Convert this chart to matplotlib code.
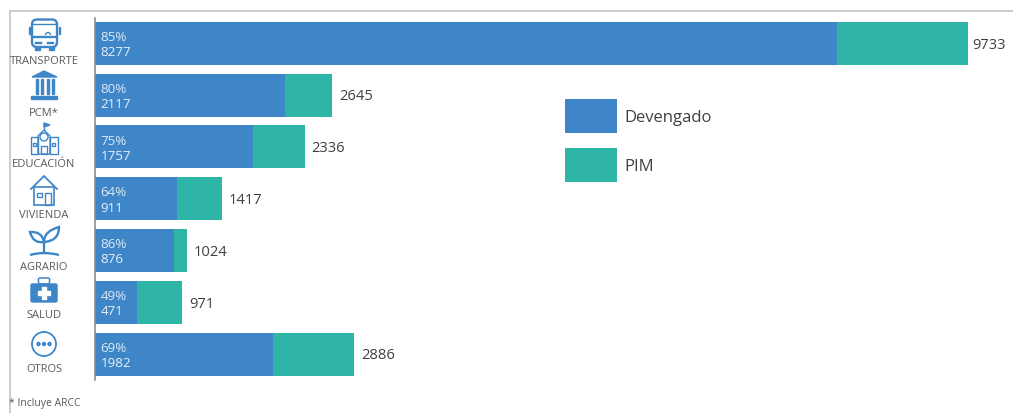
import matplotlib
matplotlib.use("Agg")
import matplotlib.pyplot as plt
from matplotlib.patches import Rectangle, Circle, Polygon, FancyBboxPatch, Arc, PathPatch
from matplotlib.path import Path

plt.rcParams['font.family'] = ['Open Sans', 'DejaVu Sans']

categories = ["TRANSPORTE", "PCM*", "EDUCACIÓN", "VIVIENDA", "AGRARIO", "SALUD", "OTROS"]
devengado = [8277, 2117, 1757, 911, 876, 471, 1982]
pim = [9733, 2645, 2336, 1417, 1024, 971, 2886]
percent = [85, 80, 75, 64, 86, 49, 69]
footnote = "* Incluye ARCC"

BLUE = "#3E86C8"
TEAL = "#2FB5A7"
W, H = 1013, 414
ICON = "#3E86C8"
LABEL = "#5A5A5A"

fig = plt.figure(figsize=(W / 100, H / 100), dpi=100, facecolor="white")

# main axes
left, right, top, bottom = 95, 968, 19, 380.5
ax = fig.add_axes([left / W, 1 - bottom / H, (right - left) / W, (bottom - top) / H])
ax.patch.set_alpha(0)
y = list(range(len(categories)))
rem = [p - d for p, d in zip(pim, devengado)]
h1 = ax.barh(y, devengado, height=0.83, color=BLUE, label="Devengado")
h2 = ax.barh(y, rem, left=devengado, height=0.83, color=TEAL, label="PIM")
ax.set_xlim(0, max(pim))
ax.set_ylim(6.49, -0.49)
for s in ("top", "right", "bottom"):
    ax.spines[s].set_visible(False)
ax.spines["left"].set_color("#8C8C8C")
ax.spines["left"].set_linewidth(1.2)
ax.set_xticks([])
ax.set_yticks([])
for i in y:
    ax.annotate(f"{percent[i]}%", (0, i), xytext=(4, 5), textcoords="offset points",
                color="#DCE9F5", fontsize=9.6, va="center", ha="left")
    ax.annotate(f"{devengado[i]}", (0, i), xytext=(4, -6), textcoords="offset points",
                color="#E8F0F8", fontsize=9.6, va="center", ha="left")
    ax.annotate(f"{pim[i]}", (pim[i], i), xytext=(2.9 if i == 0 else 5, -0.5),
                textcoords="offset points",
                color="#404040", fontsize=10.6, va="center", ha="left")

ax.legend(handles=[h1, h2], frameon=False, fontsize=12, loc="upper left",
          bbox_to_anchor=(565 / W, 1 - 100 / H), bbox_transform=fig.transFigure,
          borderpad=0, borderaxespad=0, handlelength=3.12, handleheight=2.75,
          labelspacing=0.92, handletextpad=0.42, labelcolor="#404040")

# overlay in pixel coordinates for the frame and icons
ov = fig.add_axes([0, 0, 1, 1], zorder=5)
ov.set_xlim(0, W)
ov.set_ylim(H, 0)
ov.axis("off")
ov.patch.set_alpha(0)

ov.plot([9.5, W], [11.5, 11.5], color="#C8C8C8", lw=1.3)
ov.plot([9.5, 9.5], [11.5, H], color="#C8C8C8", lw=1.3)

label_y = [61, 113.5, 164.5, 215.5, 268, 316, 370]
for c, ly in zip(categories, label_y):
    ov.text(44, ly, c, fontsize=8, color=LABEL, ha="center", va="center")
ov.text(9, 404, footnote, fontsize=7.5, color=LABEL, ha="left", va="center")

lw = 1.7
tl = 1.0
# bus
ov.add_patch(FancyBboxPatch((32, 20.5), 25, 27.5, boxstyle="round,pad=0,rounding_size=5", fc="none", ec=ICON, lw=lw))
ov.plot([32, 57], [25, 25], color=ICON, lw=tl)
ov.plot([32, 57], [37.5, 37.5], color=ICON, lw=lw)
ov.add_patch(Arc((48, 36), 5, 5, theta1=180, theta2=360, ec=ICON, lw=tl))
ov.add_patch(Rectangle((35, 48), 5, 3, fc=ICON, ec=ICON))
ov.add_patch(Rectangle((49, 48), 5, 3, fc=ICON, ec=ICON))
ov.add_patch(Rectangle((28.7, 28), 1.3, 7, fc=ICON, ec=ICON))
ov.add_patch(Rectangle((59, 28), 1.3, 7, fc=ICON, ec=ICON))
ov.plot([36, 41], [43.5, 43.5], color=ICON, lw=lw)
ov.plot([48, 53], [43.5, 43.5], color=ICON, lw=lw)
# PCM (columns)
ov.add_patch(Polygon([[32, 78], [44, 72], [57, 78]], fc=ICON, ec=ICON))
for cx in (36, 41, 46.5, 51.5):
    ov.add_patch(Rectangle((cx, 80), 2.2, 15, fc=ICON, ec=ICON))
ov.add_patch(Rectangle((31, 97), 26, 2.5, fc=ICON, ec=ICON))
# school
ov.plot([44, 44], [131, 124], color=ICON, lw=tl)
ov.add_patch(Polygon([[44, 124], [50, 126], [44, 128]], fc=ICON, ec=ICON))
ov.add_patch(Polygon([[38, 137], [44, 131], [50, 137], [50, 155], [38, 155]], fc="none", ec=ICON, lw=tl))
ov.add_patch(Rectangle((31, 138), 7, 17, fc="none", ec=ICON, lw=tl))
ov.add_patch(Rectangle((50, 138), 8, 17, fc="none", ec=ICON, lw=tl))
ov.add_patch(Circle((44, 138), 4, fc="none", ec=ICON, lw=tl))
ov.add_patch(Rectangle((41, 147), 6, 8, fc="none", ec=ICON, lw=tl))
ov.add_patch(Rectangle((33, 144), 3, 3, fc="none", ec=ICON, lw=tl))
ov.add_patch(Rectangle((52, 144), 3, 3, fc="none", ec=ICON, lw=tl))
# house
ov.plot([31, 44, 57], [190, 177, 190], color=ICON, lw=lw - 0.4)
ov.add_patch(Rectangle((34, 188), 20, 18, fc="none", ec=ICON, lw=tl + 0.2))
ov.add_patch(Rectangle((45, 194), 6, 12, fc="none", ec=ICON, lw=tl))
ov.add_patch(Rectangle((37, 194), 5, 4, fc="none", ec=ICON, lw=tl))
# plant
C3 = Path.CURVE3
left_leaf = Path([(44, 254), (44, 248), (44, 243), (33, 245), (30, 233), (42, 232), (44, 243)],
                 [Path.MOVETO, C3, C3, C3, C3, C3, C3])
right_leaf = Path([(44, 243), (44, 232), (59, 228), (59, 242), (44, 243)],
                  [Path.MOVETO, C3, C3, C3, C3])
base = Path([(30, 256), (44, 252), (59, 256)], [Path.MOVETO, C3, C3])
for p in (left_leaf, right_leaf, base):
    ov.add_patch(PathPatch(p, fc="none", ec=ICON, lw=lw))
# medical case
ov.add_patch(FancyBboxPatch((31, 285), 26, 18, boxstyle="round,pad=0,rounding_size=1.5", fc=ICON, ec=ICON))
ov.add_patch(FancyBboxPatch((38.5, 279), 11, 6, boxstyle="round,pad=0,rounding_size=1.5", fc="none", ec=ICON, lw=1.1))
ov.add_patch(Rectangle((42, 287.5), 4, 12.5, fc="white", ec="white"))
ov.add_patch(Rectangle((38, 291.5), 12, 4.5, fc="white", ec="white"))
# others
ov.add_patch(Circle((44, 345), 12, fc="none", ec=ICON, lw=lw - 0.4))
for cx in (38.5, 44, 49.5):
    ov.add_patch(Circle((cx, 345), 1.5, fc=ICON, ec=ICON))

fig.savefig("out.png", dpi=100, facecolor="white")
